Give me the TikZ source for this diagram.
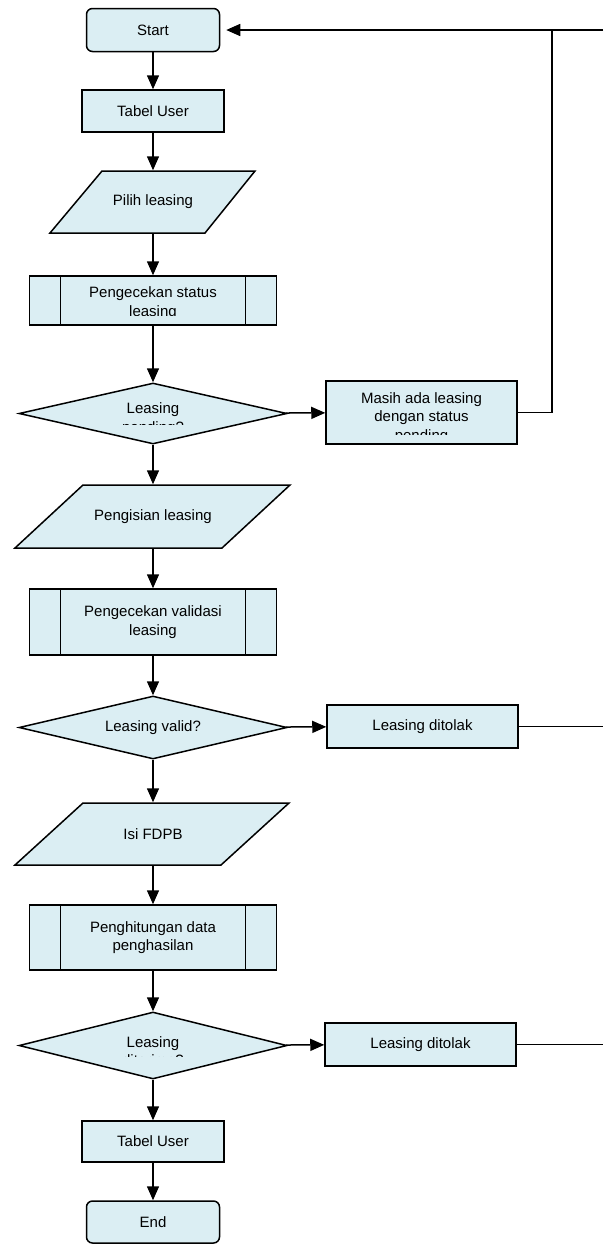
\documentclass[tikz,border=0pt]{standalone}
\usepackage{fontspec}
\setmainfont{Liberation Sans}
\usetikzlibrary{shapes.geometric,arrows.meta}
\definecolor{boxblue}{RGB}{219,238,243}
\begin{document}
\begin{tikzpicture}[x=1pt,y=-1pt,line width=1.5pt,
    font=\fontsize{15}{18.5}\selectfont,
    every node/.style={align=center,inner sep=0pt},
    base/.style={draw,fill=boxblue},
    term/.style={base,rounded corners=6pt,minimum width=133pt,minimum height=43pt},
    proc/.style={base,minimum width=191pt,minimum height=43pt},
    sub/.style={base,minimum width=247pt,minimum height=65pt,
        path picture={\draw ([xshift=31pt]path picture bounding box.north west) -- ([xshift=31pt]path picture bounding box.south west)
            ([xshift=-31pt]path picture bounding box.north east) -- ([xshift=-31pt]path picture bounding box.south east);}},
    io/.style={minimum width=150pt,minimum height=62pt},
    dec/.style={base,diamond,aspect=4.4,minimum width=268pt,minimum height=63pt},
    arr/.style={-{Triangle[length=14pt,width=12pt]}}]
    \useasboundingbox (0,0) rectangle (603,1245);
    
    % parallelograms for input
    \draw[base] (102,171) -- (255,171) -- (205,233) -- (50,233) -- cycle;
    \draw[base] (83,485) -- (290,485) -- (222,548) -- (15,548) -- cycle;
    \draw[base] (83,803) -- (289,803) -- (221,865) -- (15,865) -- cycle;
    
    \node[term] (A) at (153,30) {Start};
    \node[proc,minimum width=142pt,minimum height=42pt] (B) at (153,111) {Tabel User};
    \node[io] (C) at (153,202) {Pilih leasing};
    \node[sub,minimum height=49pt] (D) at (153,300.5) {};
    \begin{scope}
    \clip (27,276) rectangle (276,315);
    \node (Dt) at (153,303) {Pengecekan status\\leasing};
    \end{scope}
    \node[dec,minimum height=61pt] (E) at (153,413.5) {};
    \begin{scope}
    \clip (17,383) rectangle (287,424);
    \node (Et) at (153,419) {Leasing\\pending?};
    \end{scope}
    \node[proc,minimum height=63pt] (F) at (421.5,412.5) {};
    \begin{scope}
    \clip (326,381) rectangle (517,434);
    \node (Ft) at (421.5,418) {Masih ada leasing\\dengan status\\pending};
    \end{scope}
    \node[io,minimum height=63pt] (G) at (153,516.5) {Pengisian leasing};
    \node[sub,minimum height=66pt] (H) at (153,622) {Pengecekan validasi\\leasing};
    \node[dec] (I) at (153,727.5) {Leasing valid?};
    \node[proc] (J) at (422.5,726.5) {Leasing ditolak};
    \node[io] (K) at (153,834) {Isi FDPB};
    \node[sub] (L) at (153,937.5) {Penghitungan data\\penghasilan};
    \node[dec,minimum height=67pt] (M) at (153,1045.5) {};
    \begin{scope}
    \clip (19,1012) rectangle (288,1056);
    \node (Mt) at (153,1051) {Leasing\\diterima?};
    \end{scope}
    \node[proc] (J2) at (420.5,1044.5) {Leasing ditolak};
    \node[proc,minimum width=142pt,minimum height=41pt] (B2) at (153,1141.5) {Tabel User};
    \node[term,minimum height=42pt] (P) at (153,1222) {End};
    \coordinate (R) at (603,30);
    \coordinate (R1) at (552,30);
    
    \draw[arr] (A) -- (B);
    \draw[arr] (B) -- (C);
    \draw[arr] (C) -- (D);
    \draw[arr] (D) -- (E);
    \draw[arr] (E) -- (F);
    \draw[arr] (E) -- (G);
    \draw[arr] (G) -- (H);
    \draw[arr] (H) -- (I);
    \draw[arr] (I) -- (J);
    \draw[arr] (I) -- (K);
    \draw[arr] (K) -- (L);
    \draw[arr] (L) -- (M);
    \draw[arr] (M) -- (J2);
    \draw[arr] (M) -- (B2);
    \draw[arr] (B2) -- (P);
    \draw (F) -| (R1);
    \draw[arr,shorten >=6pt] (R) -- (A);
    \draw (J) -- (J -| R);
    \draw (J2) -- (J2 -| R);
    
\end{tikzpicture}
\end{document}
